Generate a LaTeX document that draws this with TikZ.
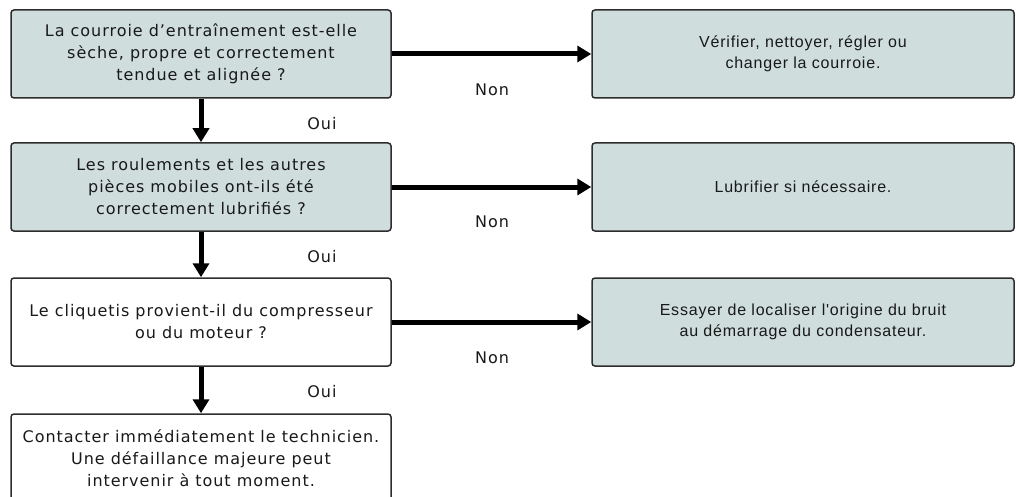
\documentclass[tikz,border=0pt]{standalone}
\usepackage{fontspec}
\setmainfont{DejaVu Sans}[LetterSpace=6]
\newfontfamily\actionfont{Liberation Sans}[LetterSpace=5]
\usetikzlibrary{arrows.meta}

\definecolor{boxfill}{RGB}{207,221,221}
\definecolor{boxline}{RGB}{45,45,45}

\tikzset{
  box/.style={draw=boxline, line width=1.5pt, rounded corners=3pt,
    minimum height=88pt, align=center, text=black!90,
    font=\fontsize{16}{22}\selectfont},
  question/.style={box, minimum width=380pt},
  action/.style={box, minimum width=422pt, fill=boxfill,
    font=\actionfont\fontsize{16}{21}\selectfont},
  flow/.style={line width=5pt, -{Triangle[length=14pt,width=16pt]}},
  answer/.style={font=\fontsize{16}{18}\selectfont, text=black!90}
}

\begin{document}
\begin{tikzpicture}[x=1pt,y=-1pt]
   \useasboundingbox[fill=white] (0,0) rectangle (1016,497);

   \node(Q1)[question, fill=boxfill] at (201,54) {La courroie d'entraînement est-elle\\sèche, propre et correctement\\tendue et alignée ?};
   \node(Q2)[question, fill=boxfill] at (201,187) {Les roulements et les autres\\pièces mobiles ont-ils été\\correctement lubrifiés ?};
   \node(Q3)[question, fill=white] at (201,322) {Le cliquetis provient-il du compresseur\\ou du moteur ?};
   \node(Q4)[question, fill=white] at (201,458) {Contacter immédiatement le technicien.\\Une défaillance majeure peut\\intervenir à tout moment.};

   \node(A1)[action] at (803,54) {Vérifier, nettoyer, régler ou\\changer la courroie.};
   \node(A2)[action] at (803,187) {Lubrifier si nécessaire.};
   \node(A3)[action] at (803,322) {Essayer de localiser l'origine du bruit\\au démarrage du condensateur.};

   \draw[flow] (Q1) -- (A1);
   \draw[flow] (Q2) -- (A2);
   \draw[flow] (Q3) -- (A3);
   \node(N1)[answer] at (492,90) {Non};
   \node(N2)[answer] at (492,222) {Non};
   \node(N3)[answer] at (492,358) {Non};

   \draw[flow] (Q1) -- (Q2);
   \draw[flow] (Q2) -- (Q3);
   \draw[flow] (Q3) -- (Q4);
   \node(O1)[answer] at (322,124) {Oui};
   \node(O2)[answer] at (322,257) {Oui};
   \node(O3)[answer] at (322,392) {Oui};
\end{tikzpicture}
\end{document}
